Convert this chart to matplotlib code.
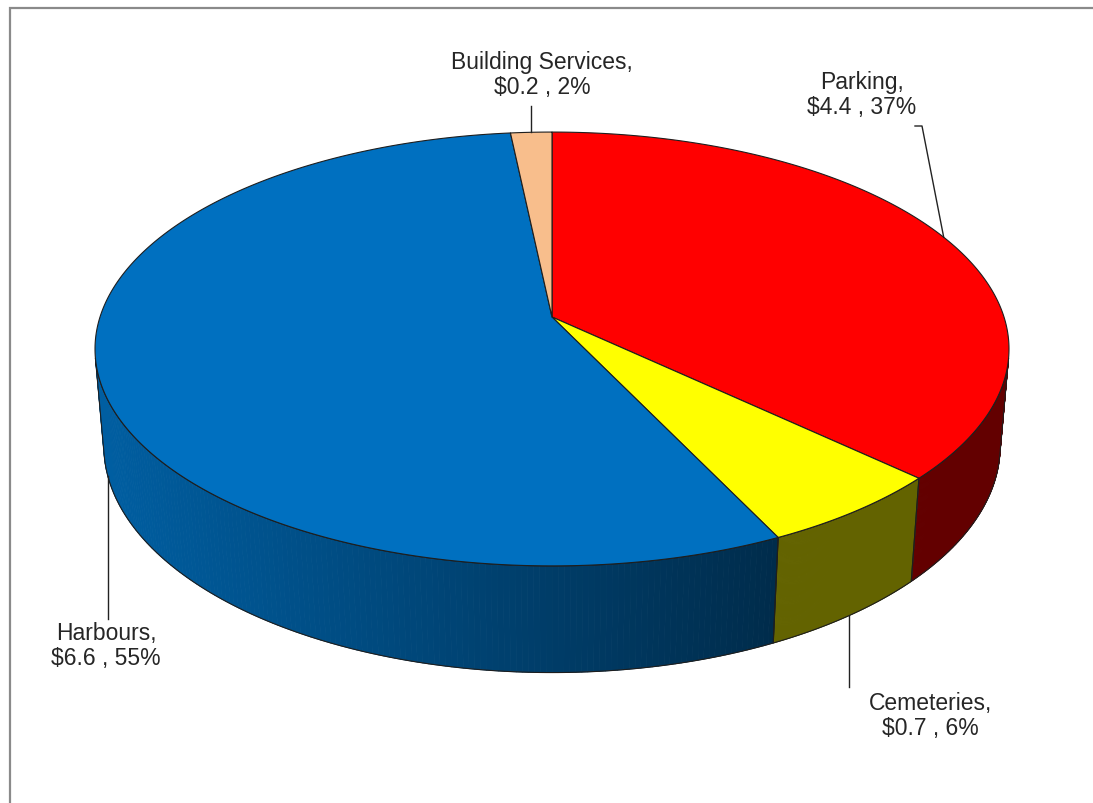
import numpy as np
import matplotlib
matplotlib.use("Agg")
import matplotlib.pyplot as plt
from matplotlib.patches import Polygon
from matplotlib.collections import PolyCollection
from matplotlib.lines import Line2D

plt.rcParams["font.family"] = ["Liberation Sans", "DejaVu Sans"]

# Revenue by service ($ millions), clockwise from 12 o'clock
categories = ["Parking", "Cemeteries", "Harbours", "Building Services"]
values = [4.4, 0.7, 6.6, 0.2]
top_colors = ["#FF0000", "#FFFF00", "#0070C0", "#F8BE8C"]

# label centres (pixels) and leader-line bends
label_pos = {
    "Parking": (862, 95),
    "Cemeteries": (930, 716),
    "Harbours": (106, 646),
    "Building Services": (542, 75),
}

W, Hpx = 1093, 804
fig = plt.figure(figsize=(W / 100, Hpx / 100), dpi=100)
ax = fig.add_axes([0, 0, 1, 1])
ax.set_xlim(0, W)
ax.set_ylim(Hpx, 0)
ax.axis("off")

# perspective projection of a cylinder seen from the front and above
CX, CY, R = 552, 318, 452
ELEV = np.radians(28)
DIST = 5.99
THICK = 0.245
SE, CE = np.sin(ELEV), np.cos(ELEV)


def project(phi, z):
    X = np.sin(phi)
    Y = np.cos(phi)
    depth = Y * CE - z * SE
    up = Y * SE + z * CE
    f = DIST / (DIST + depth)
    return CX + R * X * f, CY - R * up * f


def shade(x):
    return np.clip(0.39 + (780 - x) / 680 * 0.45, 0.39, 0.85)


total = sum(values)
fracs = np.array(values) / total
bounds = np.concatenate([[0], np.cumsum(fracs)]) * 2 * np.pi

# outer wall is visible where cos(phi) < -1/(D*cos(elev))
lim = np.arccos(-1 / (DIST * CE))
vis_lo, vis_hi = lim, 2 * np.pi - lim

edge = "#1e1e1e"

# side walls
for i, col in enumerate(top_colors):
    a0, a1 = max(bounds[i], vis_lo), min(bounds[i + 1], vis_hi)
    if a1 <= a0:
        continue
    phis = np.linspace(a0, a1, 160)
    tx, ty = project(phis, 0.0)
    bx, by = project(phis, -THICK)
    base = np.array(matplotlib.colors.to_rgb(col))
    polys, cols = [], []
    for k in range(len(phis) - 1):
        polys.append([(tx[k], ty[k]), (tx[k + 1], ty[k + 1]),
                      (bx[k + 1], by[k + 1]), (bx[k], by[k])])
        c = base * shade(0.5 * (tx[k] + tx[k + 1]))
        cols.append(tuple(c))
    pc = PolyCollection(polys, facecolors=cols, edgecolors=cols,
                        linewidths=0.6, zorder=1)
    ax.add_collection(pc)
    outline = np.vstack([np.column_stack([tx, ty]),
                         np.column_stack([bx[::-1], by[::-1]])])
    ax.add_patch(Polygon(outline, closed=True, facecolor="none",
                         edgecolor=edge, lw=0.8, zorder=2))

# top faces
for i, col in enumerate(top_colors):
    phis = np.linspace(bounds[i], bounds[i + 1], 300)
    tx, ty = project(phis, 0.0)
    pts = np.vstack([[CX, CY], np.column_stack([tx, ty])])
    ax.add_patch(Polygon(pts, closed=True, facecolor=col, edgecolor=edge,
                         lw=0.8, joinstyle="round", zorder=3))

# labels and leader lines
for i, cat in enumerate(categories):
    pct = fracs[i] * 100
    text = f"{cat},\n${values[i]:.1f} , {pct:.0f}%"
    lx, ly = label_pos[cat]
    ax.text(lx, ly, text, ha="center", va="center", fontsize=16.5,
            color="#262626", linespacing=1.12, zorder=5)
    mid = 0.5 * (bounds[i] + bounds[i + 1])
    if cat == "Parking":
        ax_, ay_ = project(mid, 0.0)
        xs, ys = [ax_, 922, 915], [ay_, 127, 127]
    elif cat == "Building Services":
        ax_, ay_ = project(mid, 0.0)
        xs, ys = [ax_, ax_], [ay_, 107]
    elif cat == "Harbours":
        ax_, ay_ = project(mid, -THICK)
        xs, ys = [ax_, ax_], [ay_, 620]
    else:
        ax_, ay_ = project(mid, -THICK)
        xs, ys = [ax_, ax_], [ay_, 688]
    ax.add_line(Line2D(xs, ys, color="#222222", lw=1.0, zorder=4))

# frame
ax.add_line(Line2D([9.5, 9.5, W], [Hpx, 8.5, 8.5], color="#8a8a8a",
                   lw=1.6, zorder=6, solid_joinstyle="miter"))

fig.savefig("out.png", dpi=100)
